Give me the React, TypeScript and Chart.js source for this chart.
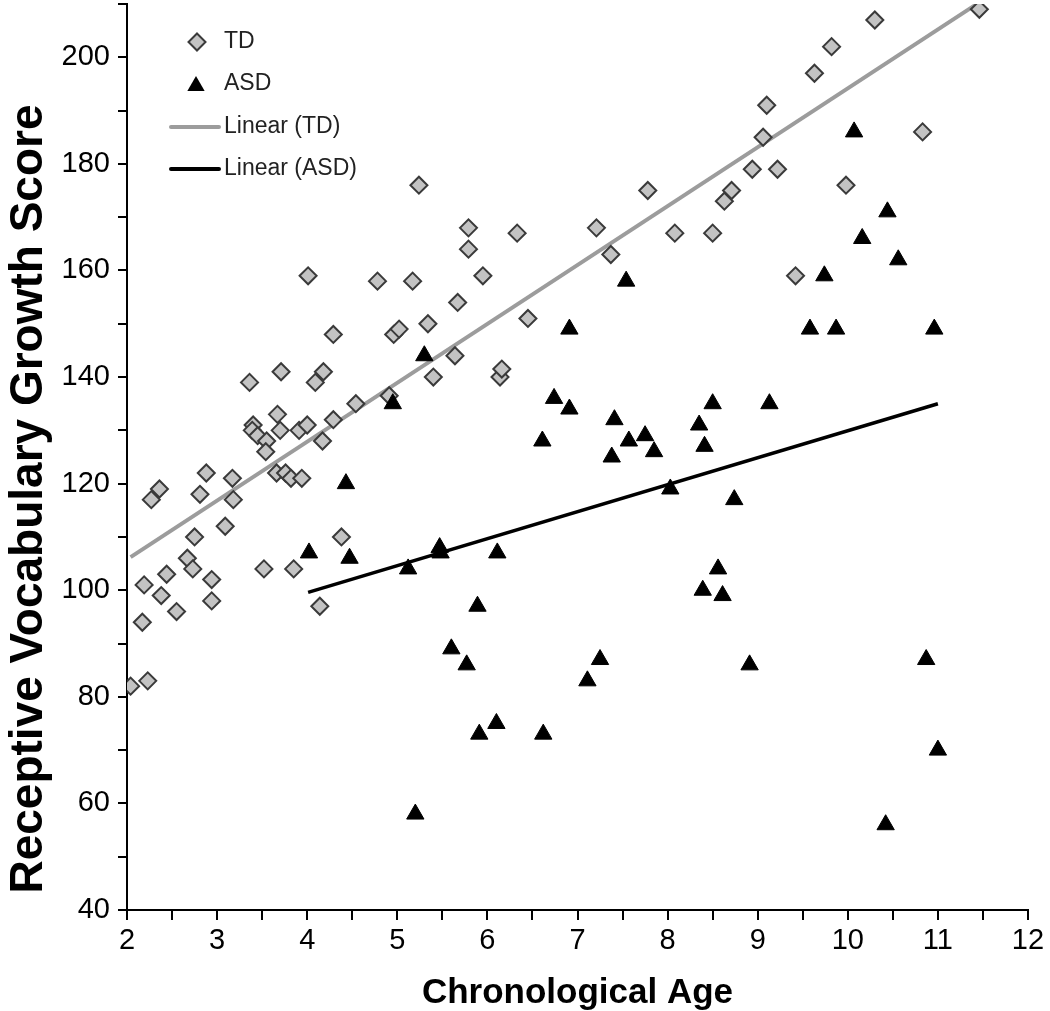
import React, { useEffect, useRef } from 'react';
import { Chart, registerables } from 'chart.js';

Chart.register(...registerables);

// ---- Data ----
const tdAge = [
  2.04, 2.23, 2.17, 2.19, 2.27, 2.36, 2.38, 2.44, 2.55, 2.67,
  2.73, 2.75, 2.81, 2.88, 2.94, 2.94, 3.09, 3.17, 3.18, 3.36,
  3.40, 3.39, 3.45, 3.55, 3.54, 3.52, 3.67, 3.71, 3.70, 3.66,
  3.76, 3.82, 3.85, 3.91, 3.94, 4.00, 4.01, 4.09, 4.14, 4.17,
  4.18, 4.29, 4.29, 4.38, 4.54, 4.78, 4.91, 4.96, 5.02, 5.17,
  5.24, 5.34, 5.40, 5.64, 5.67, 5.79, 5.79, 5.95, 6.14, 6.16,
  6.33, 6.45, 7.21, 7.37, 7.78, 8.08, 8.50, 8.63, 8.71, 8.94,
  9.22, 9.06, 9.10, 9.42, 9.63, 9.82, 9.98, 10.30, 10.83, 11.46,
];
const tdScore = [
  82, 83, 94, 101, 117, 119, 99, 103, 96, 106,
  104, 110, 118, 122, 102, 98, 112, 121, 117, 139,
  131, 130, 129, 128, 126, 104, 133, 141, 130, 122,
  122, 121, 104, 130, 121, 131, 159, 139, 97, 128,
  141, 148, 132, 110, 135, 158, 136.5, 148, 149, 158,
  176, 150, 140, 144, 154, 164, 168, 159, 140, 141.5,
  167, 151, 168, 163, 175, 167, 167, 173, 175, 179,
  179, 185, 191, 159, 197, 202, 176, 207, 186, 209,
];
const asdAge = [
  4.02, 4.43, 4.47, 4.95, 5.12, 5.20, 5.30, 5.47, 5.48, 5.60,
  5.77, 5.89, 5.91, 6.10, 6.11, 6.61, 6.62, 6.74, 6.91, 6.91,
  7.11, 7.25, 7.38, 7.41, 7.54, 7.57, 7.75, 7.85, 8.03, 8.35,
  8.39, 8.41, 8.50, 8.56, 8.61, 8.74, 8.91, 9.13, 9.58, 9.74,
  9.87, 10.07, 10.16, 10.42, 10.44, 10.56, 10.87, 10.96, 11.00,
];
const asdScore = [
  107, 120, 106, 135, 104, 58, 144, 108, 107, 89,
  86, 97, 73, 75, 107, 128, 73, 136, 134, 149,
  83, 87, 125, 132, 158, 128, 129, 126, 119, 131,
  100, 127, 135, 104, 99, 117, 86, 135, 149, 159,
  149, 186, 166, 56, 171, 162, 87, 149, 70,
];
const tdTrendAge = [2.04, 11.46];
const tdTrendScore = [106.2, 210.3];
const asdTrendAge = [4.01, 11.0];
const asdTrendScore = [99.6, 135.0];

const seriesLabels = ['TD', 'ASD', 'Linear (TD)', 'Linear (ASD)'];
const xTitle = 'Chronological Age';
const yTitle = 'Receptive Vocabulary Growth Score';
const xMin = 2, xMax = 12, xStep = 0.5;
const yMin = 40, yMax = 210, yStep = 10, yLabelStep = 20;

const pts = (xs: number[], ys: number[]) => xs.map((x, i) => ({ x, y: ys[i] }));

const FONT = "'Liberation Sans', Arial, Helvetica, sans-serif";
const TD_FILL = '#c3c3c3';
const TD_BORDER = '#3a3a3a';
const TD_LINE = '#9c9c9c';
const SHIFT = 7; // canvas is moved up by this many px so the plot reaches the top

const decorPlugin = {
  id: 'decor',
  afterDraw(chart: any) {
    const ctx = chart.ctx as CanvasRenderingContext2D;
    const area = chart.chartArea;
    ctx.save();
    ctx.translate(0, SHIFT);
    ctx.fillStyle = '#000';
    ctx.font = "bold 42px 'Liberation Sans Narrow'";
    const w = ctx.measureText(xTitle).width;
    if (w > 330 || w < 280) {
      ctx.font = `bold 35px ${FONT}`;
    }
    ctx.textAlign = 'center';
    ctx.textBaseline = 'alphabetic';
    ctx.fillText(xTitle, (area.left + area.right) / 2, 1003);

    ctx.save();
    ctx.translate(42, 499);
    ctx.rotate(-Math.PI / 2);
    ctx.font = `bold 46px ${FONT}`;
    ctx.textAlign = 'center';
    ctx.textBaseline = 'alphabetic';
    ctx.fillText(yTitle, 0, 0);
    ctx.restore();

    // legend
    const rows = [42, 84, 127, 169];
    const textX = 224;
    ctx.font = `23px ${FONT}`;
    ctx.textAlign = 'left';
    ctx.textBaseline = 'middle';
    const r = 8.5;
    ctx.beginPath();
    ctx.moveTo(197, rows[0] - r);
    ctx.lineTo(197 + r, rows[0]);
    ctx.lineTo(197, rows[0] + r);
    ctx.lineTo(197 - r, rows[0]);
    ctx.closePath();
    ctx.fillStyle = TD_FILL;
    ctx.fill();
    ctx.lineWidth = 2;
    ctx.strokeStyle = TD_BORDER;
    ctx.stroke();
    const tr = 10;
    const cy = rows[1] + 2;
    ctx.beginPath();
    ctx.moveTo(196, cy - tr);
    ctx.lineTo(196 + tr * Math.sin((2 * Math.PI) / 3), cy + tr / 2);
    ctx.lineTo(196 - tr * Math.sin((2 * Math.PI) / 3), cy + tr / 2);
    ctx.closePath();
    ctx.fillStyle = '#000';
    ctx.fill();
    ctx.lineCap = 'round';
    ctx.lineWidth = 4;
    ctx.strokeStyle = TD_LINE;
    ctx.beginPath();
    ctx.moveTo(171, rows[2]);
    ctx.lineTo(219, rows[2]);
    ctx.stroke();
    ctx.strokeStyle = '#000';
    ctx.beginPath();
    ctx.moveTo(171, rows[3]);
    ctx.lineTo(219, rows[3]);
    ctx.stroke();
    ctx.fillStyle = '#222';
    seriesLabels.forEach((lbl, i) => ctx.fillText(lbl, textX, rows[i]));
    ctx.restore();
  },
};

export default function App() {
  const ref = useRef<HTMLCanvasElement | null>(null);
  useEffect(() => {
    if (!ref.current) return;
    const chart = new Chart(ref.current, {
      type: 'scatter',
      data: {
        datasets: [
          {
            label: seriesLabels[0],
            data: pts(tdAge, tdScore),
            pointStyle: 'rectRot',
            pointRadius: 8.5,
            pointBackgroundColor: TD_FILL,
            pointBorderColor: TD_BORDER,
            pointBorderWidth: 2,
            order: 2,
          },
          {
            label: seriesLabels[1],
            data: pts(asdAge, asdScore),
            pointStyle: 'triangle',
            pointRadius: 10,
            pointBackgroundColor: '#000',
            pointBorderColor: '#000',
            pointBorderWidth: 1,
            order: 1,
          },
          {
            label: seriesLabels[2],
            data: pts(tdTrendAge, tdTrendScore),
            showLine: true,
            pointRadius: 0,
            borderColor: TD_LINE,
            borderWidth: 4,
            order: 4,
          },
          {
            label: seriesLabels[3],
            data: pts(asdTrendAge, asdTrendScore),
            showLine: true,
            pointRadius: 0,
            borderColor: '#000',
            borderWidth: 3.5,
            order: 3,
          },
        ],
      },
      options: {
        animation: false,
        responsive: false,
        devicePixelRatio: 1,
        layout: { padding: { left: 0, right: 22, top: 4, bottom: 0 } },
        plugins: {
          legend: { display: false },
          tooltip: { enabled: false },
          title: { display: false },
        },
        scales: {
          x: {
            type: 'linear',
            min: xMin,
            max: xMax,
            afterFit: (s: any) => { s.height = 101; s.paddingLeft = 0; s.paddingRight = 0; },
            ticks: {
              stepSize: xStep,
              autoSkip: false,
              maxRotation: 0,
              padding: 4,
              color: '#000',
              font: { family: FONT, size: 29 },
              callback: (v: any) => (Number.isInteger(v) ? String(v) : ''),
            },
            grid: {
              drawOnChartArea: false,
              drawTicks: true,
              tickLength: 10,
              color: '#000',
              lineWidth: 2,
            },
            border: { display: true, color: '#000', width: 2 },
          },
          y: {
            type: 'linear',
            min: yMin,
            max: yMax,
            afterFit: (s: any) => { s.width = 127; s.paddingTop = 0; s.paddingBottom = 0; },
            ticks: {
              stepSize: yStep,
              autoSkip: false,
              padding: 8,
              color: '#000',
              font: { family: FONT, size: 29 },
              callback: (v: any) => (v % yLabelStep === 0 ? String(v) : ''),
            },
            grid: {
              drawOnChartArea: false,
              drawTicks: true,
              tickLength: 9,
              color: '#000',
              lineWidth: 2,
            },
            border: { display: true, color: '#000', width: 2 },
          },
        },
      },
      plugins: [decorPlugin],
    });
    return () => chart.destroy();
  }, []);
  return (
    <div style={{ position: 'fixed', left: 0, top: 0, width: 1050, height: 1011, background: '#fff', overflow: 'hidden' }}>
      <canvas
        ref={ref}
        width={1050}
        height={1011 + SHIFT}
        style={{ position: 'absolute', left: 0, top: -SHIFT, width: 1050, height: 1011 + SHIFT }}
      />
    </div>
  );
}
